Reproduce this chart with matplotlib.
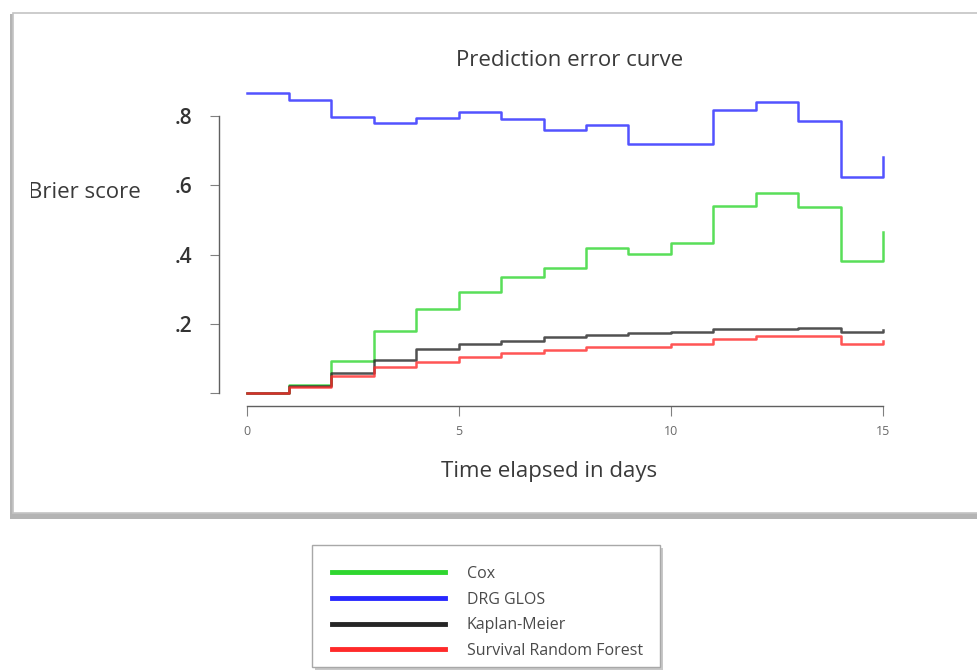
import matplotlib.pyplot as plt
from matplotlib.patches import Rectangle
from matplotlib.transforms import Bbox, TransformedBbox

plt.rcParams['font.family'] = ['Open Sans', 'DejaVu Sans']

# Brier score per day (step function, value at day t holds until t+1; last value is the jump at day 15)
days = list(range(16))
cox = [0.0, 0.024, 0.094, 0.181, 0.242, 0.292, 0.336, 0.362, 0.419, 0.402, 0.433, 0.541, 0.579, 0.538, 0.382, 0.464]
drg_glos = [0.866, 0.846, 0.796, 0.780, 0.795, 0.811, 0.792, 0.759, 0.775, 0.720, 0.720, 0.816, 0.841, 0.786, 0.623, 0.681]
kaplan_meier = [0.0, 0.022, 0.060, 0.097, 0.128, 0.143, 0.152, 0.162, 0.169, 0.173, 0.177, 0.185, 0.187, 0.188, 0.178, 0.182]
srf = [0.0, 0.017, 0.050, 0.075, 0.091, 0.106, 0.116, 0.126, 0.135, 0.135, 0.141, 0.157, 0.166, 0.166, 0.143, 0.151]

series = [
    ('Cox', cox, '#2fd62f'),
    ('DRG GLOS', drg_glos, '#2828ff'),
    ('Kaplan-Meier', kaplan_meier, '#262626'),
    ('Survival Random Forest', srf, '#ff2a2a'),
]
yticks = [0.2, 0.4, 0.6, 0.8]
ytick_labels = ['.2', '.4', '.6', '.8']
xticks = [0, 5, 10, 15]

W, H = 978, 671
fig = plt.figure(figsize=(W / 100, H / 100), dpi=100)
fig.patch.set_facecolor('white')

# screenshot-like frame with a shadow around the chart
fig.patches.append(Rectangle((10 / W, 1 - 519 / H), 1.0, 505 / H, transform=fig.transFigure,
                             facecolor='#b4b4b4', edgecolor='none', zorder=-3))
fig.patches.append(Rectangle((13 / W, 1 - 513 / H), 1.0, 500 / H, transform=fig.transFigure,
                             facecolor='white', edgecolor='#c4c4c4', lw=1.2, zorder=-2))

ax = fig.add_axes([219 / W, 1 - 406 / H, 681 / W, 326 / H])
ax.patch.set_alpha(0)
for name, vals, col in series:
    ax.step(days, vals, where='post', color=col, lw=1.8, alpha=0.8, label=name)

ax.set_xlim(-0.65, 15.4)
ax.set_ylim(-0.0366, 0.904)
for s in ['top', 'right']:
    ax.spines[s].set_visible(False)
ax.spines['left'].set_bounds(0, 0.8)
ax.spines['bottom'].set_bounds(0, 15)
for s in ['left', 'bottom']:
    ax.spines[s].set_color('#606060')
    ax.spines[s].set_linewidth(1.0)

ax.set_yticks([0] + yticks)
ax.set_yticklabels([''] + ytick_labels)
ax.set_xticks(xticks)
ax.tick_params(axis='y', length=6.5, width=0.8, color='#808080', labelsize=15,
               labelcolor='#333333', pad=13)
for t in ax.get_yticklabels():
    t.set_fontweight('semibold')
ax.tick_params(axis='x', length=7, width=0.8, color='#808080', labelsize=9,
               labelcolor='#6a6a6a', pad=7)

fig.text(570 / W, 1 - 60 / H, 'Prediction error curve', ha='center', va='center',
         fontsize=16, color='#3a3a3a')
fig.text(549 / W, 1 - 472 / H, 'Time elapsed in days', ha='center', va='center',
         fontsize=16, color='#3a3a3a')
ylab = fig.text(141 / W, 1 - 192 / H, 'Brier score', ha='right', va='center',
                fontsize=16, color='#3a3a3a')
ylab.set_clip_box(TransformedBbox(Bbox([[31 / W, 0], [1, 1]]), fig.transFigure))
ylab.set_clip_on(True)

# legend box below the chart (frame drawn separately)
fig.patches.append(Rectangle((315 / W, 1 - 670 / H), 348 / W, 122 / H, transform=fig.transFigure,
                             facecolor='#c8c8c8', edgecolor='none', zorder=-3))
fig.patches.append(Rectangle((312 / W, 1 - 667 / H), 348 / W, 122 / H, transform=fig.transFigure,
                             facecolor='white', edgecolor='#a8a8a8', lw=1.0, zorder=-2))
legend_lines = [plt.Line2D([], [], color=c, lw=3.5) for _, _, c in series]
leg = fig.legend(legend_lines, [n for n, _, _ in series], loc='upper left',
                 bbox_to_anchor=(332 / W, 1 - 566 / H), frameon=False,
                 fontsize=11.5, handlelength=7.1, handletextpad=1.33, labelspacing=0.6,
                 borderpad=0, borderaxespad=0)
for t in leg.get_texts():
    t.set_color('#4a4a4a')

fig.savefig('out.png', dpi=100)
